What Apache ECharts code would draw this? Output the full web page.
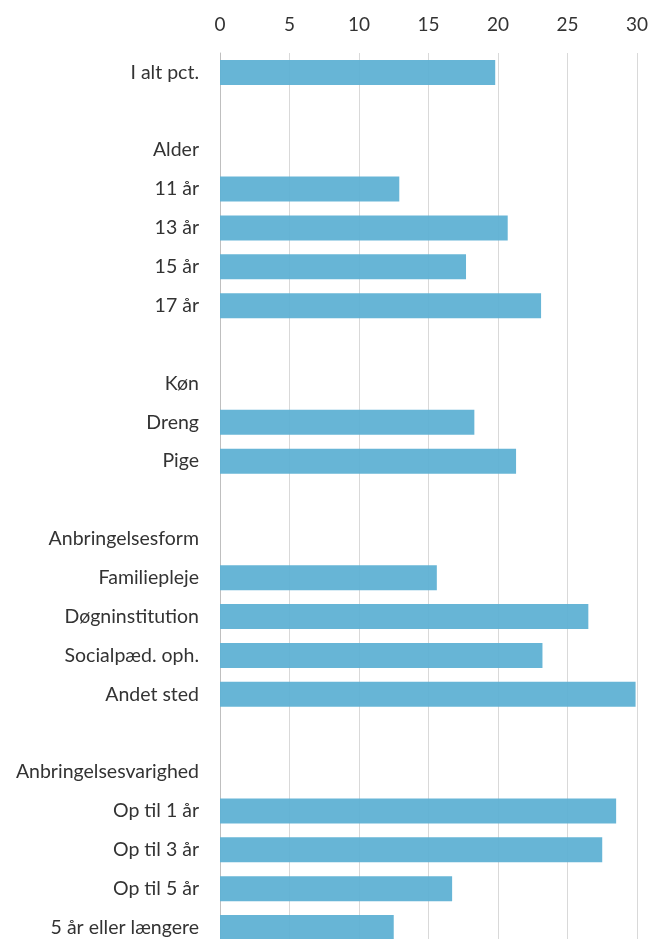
<!DOCTYPE html>
<html>
<head>
<meta charset="utf-8">
<script src="https://cdn.jsdelivr.net/npm/echarts@6/dist/echarts.min.js"></script>
<style>
	html, body { margin: 0; padding: 0; background: #fff; overflow: hidden; }
	#chart { width: 651px; height: 947px; }
</style>
</head>
<body>
<div id="chart"></div>
<script>
	const categories = ['I alt pct.', '', 'Alder', '11 år', '13 år', '15 år', '17 år', '', 'Køn', 'Dreng', 'Pige', '',
		'Anbringelsesform', 'Familiepleje', 'Døgninstitution', 'Socialpæd. oph.', 'Andet sted', '',
		'Anbringelsesvarighed', 'Op til 1 år', 'Op til 3 år', 'Op til 5 år', '5 år eller længere'];
	const values = [19.8, null, null, 12.9, 20.7, 17.7, 23.1, null, null, 18.3, 21.3, null,
		null, 15.6, 26.5, 23.2, 29.9, null, null, 28.5, 27.5, 16.7, 12.5];
	const ticks = [0, 5, 10, 15, 20, 25, 30];

	const chart = echarts.init(document.getElementById('chart'));
	const font = 'Lato, "Open Sans", sans-serif';
	chart.setOption({
		animation: false,
		backgroundColor: '#fff',
		grid: { left: 220, right: 14, top: 53, bottom: 0, containLabel: false },
		xAxis: {
			type: 'value',
			position: 'top',
			min: ticks[0],
			max: ticks[ticks.length - 1],
			interval: 5,
			axisLine: { show: false },
			axisTick: { show: false },
			axisLabel: { color: '#333', fontSize: 19, fontFamily: font, margin: 19 },
			splitLine: { lineStyle: { color: '#d9d9d9', width: 1 } }
		},
		yAxis: {
			type: 'category',
			inverse: true,
			data: categories,
			axisLine: { show: true, lineStyle: { color: '#bfbfbf' } },
			axisTick: { show: false },
			axisLabel: { interval: 0, color: '#333', fontSize: 19.5, fontFamily: font, margin: 21 }
		},
		series: [{
			type: 'bar',
			data: values,
			barWidth: 25,
			itemStyle: { color: '#5fb1d4', opacity: 0.95 }
		}]
	});
</script>
</body>
</html>
